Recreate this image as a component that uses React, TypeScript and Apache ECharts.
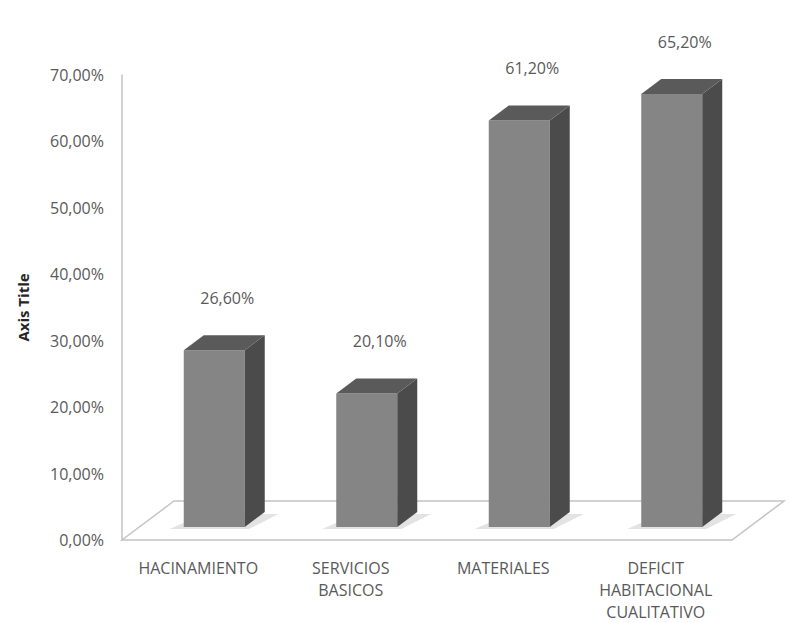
import React, { useEffect, useRef } from "react";
import * as echarts from "echarts";

const categories = [
  "HACINAMIENTO",
  "SERVICIOS\nBASICOS",
  "MATERIALES",
  "DEFICIT\nHABITACIONAL\nCUALITATIVO",
];
const values = [26.6, 20.1, 61.2, 65.2];
const yMin = 0;
const yMax = 70;
const yInterval = 10;
const yAxisTitle = "Axis Title";

const FONT = '"Open Sans", "Liberation Sans", sans-serif';
const fmt = (v: number) => v.toFixed(2).replace(".", ",") + "%";

export default function App() {
  const ref = useRef<HTMLDivElement>(null);

  useEffect(() => {
    if (!ref.current) return;
    const chart = echarts.init(ref.current, undefined, { renderer: "svg" });

    // projection constants (oblique 3D look)
    const floorDX = 52;
    const floorDY = -39;
    const barDX = 16;
    const barDY = -13;
    const depthDX = 20;
    const depthDY = -15;
    const barW = 61;

    const option: any = {
      animation: false,
      backgroundColor: "#ffffff",
      grid: { left: 122, right: 58, top: 75, bottom: 83, containLabel: false },
      xAxis: {
        type: "category",
        data: categories,
        boundaryGap: true,
        axisLine: { show: false },
        axisTick: { show: false },
        splitLine: { show: false },
        axisLabel: {
          interval: 0,
          margin: 17,
          color: "#595959",
          fontSize: 16,
          fontFamily: FONT,
          lineHeight: 22,
          align: "center",
          verticalAlign: "top",
        },
      },
      yAxis: {
        type: "value",
        min: yMin,
        max: yMax,
        interval: yInterval,
        name: yAxisTitle,
        nameLocation: "middle",
        nameRotate: 90,
        nameGap: 92,
        nameTextStyle: {
          color: "#262626",
          fontSize: 15,
          fontWeight: "bold",
          fontFamily: FONT,
        },
        axisLine: { show: true, lineStyle: { color: "#c4c4c4", width: 1.5 } },
        axisTick: { show: false },
        splitLine: { show: false },
        axisLabel: {
          margin: 18,
          color: "#595959",
          fontSize: 16,
          fontFamily: FONT,
          formatter: (v: number) => fmt(v),
        },
      },
      series: [
        {
          type: "custom",
          z: 1,
          clip: false,
          silent: true,
          data: [[0, 0]],
          renderItem: (params: any, api: any) => {
            const cs = params.coordSys;
            const x0 = cs.x;
            const x1 = cs.x + cs.width;
            const y0 = cs.y + cs.height;
            return {
              type: "polygon",
              shape: {
                points: [
                  [x0, y0],
                  [x1, y0],
                  [x1 + floorDX, y0 + floorDY],
                  [x0 + floorDX, y0 + floorDY],
                ],
              },
              style: { fill: "#ffffff", stroke: "#c4c4c4", lineWidth: 1.5 },
            };
          },
        },
        {
          type: "custom",
          z: 2,
          clip: false,
          data: values.map((v, i) => [i, v]),
          encode: { x: 0, y: 1 },
          renderItem: (params: any, api: any) => {
            const i = api.value(0);
            const v = api.value(1);
            const top = api.coord([i, v]);
            const base = api.coord([i, 0]);
            const cx = top[0] + barDX;
            const xl = cx - barW / 2;
            const xr = cx + barW / 2;
            const yt = top[1] + barDY;
            const yb = base[1] + barDY;
            return {
              type: "group",
              children: [
                {
                  type: "polygon",
                  shape: {
                    points: [
                      [xl - 14, yb + 2],
                      [xr + 4, yb + 2],
                      [xr + depthDX + 14, yb + depthDY + 2],
                      [xl + depthDX, yb + depthDY + 2],
                    ],
                  },
                  style: { fill: "#dcdcdc", opacity: 0.8 },
                },
                {
                  type: "rect",
                  shape: { x: xl, y: yt, width: barW, height: yb - yt },
                  style: { fill: "#858585" },
                },
                {
                  type: "polygon",
                  shape: {
                    points: [
                      [xr, yt],
                      [xr + depthDX, yt + depthDY],
                      [xr + depthDX, yb + depthDY],
                      [xr, yb],
                    ],
                  },
                  style: { fill: "#4b4b4b" },
                },
                {
                  type: "polygon",
                  shape: {
                    points: [
                      [xl, yt],
                      [xl + depthDX, yt + depthDY],
                      [xr + depthDX, yt + depthDY],
                      [xr, yt],
                    ],
                  },
                  style: { fill: "#5a5a5a" },
                },
                {
                  type: "text",
                  style: {
                    text: fmt(v),
                    x: cx + 13,
                    y: yt - 52,
                    align: "center",
                    verticalAlign: "middle",
                    fill: "#595959",
                    fontSize: 16,
                    fontFamily: FONT,
                  },
                },
              ],
            };
          },
        },
      ],
    };

    chart.setOption(option);
    return () => chart.dispose();
  }, []);

  return (
    <div
      ref={ref}
      style={{ position: "fixed", left: 0, top: 0, width: 790, height: 623 }}
    />
  );
}
